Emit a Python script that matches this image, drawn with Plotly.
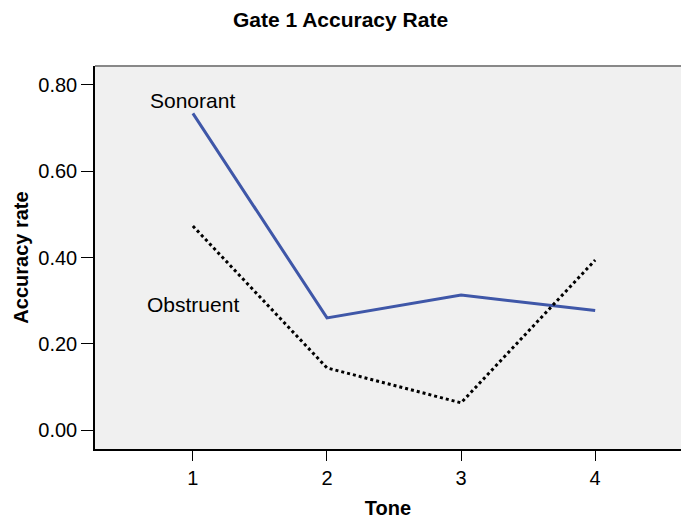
import plotly.graph_objects as go

tones = [1, 2, 3, 4]
sonorant = [0.734, 0.260, 0.313, 0.277]
obstruent = [0.473, 0.144, 0.063, 0.394]
y_ticks = [0.0, 0.2, 0.4, 0.6, 0.8]
y_ticklabels = ["0.00", "0.20", "0.40", "0.60", "0.80"]

fig = go.Figure()
fig.add_trace(go.Scatter(x=tones, y=sonorant, mode="lines", name="Sonorant",
                         line=dict(color="#3f57a8", width=3)))
fig.add_trace(go.Scatter(x=tones, y=obstruent, mode="lines", name="Obstruent",
                         line=dict(color="black", width=3, dash="dot")))

fig.add_annotation(x=tones[0], y=sonorant[0], text="Sonorant", showarrow=False,
                   yshift=13, font=dict(size=21, color="black", family="Liberation Sans"))
fig.add_annotation(x=tones[0], y=obstruent[0] - 0.17, text="Obstruent", showarrow=False,
                   yshift=-5, font=dict(size=21, color="black", family="Liberation Sans"))

fig.add_shape(type="line", xref="paper", yref="paper", x0=0, x1=1, y0=1, y1=1,
              line=dict(color="#888888", width=2))

fig.update_layout(
    width=681, height=519,
    margin=dict(l=95, r=0, t=66, b=70),
    paper_bgcolor="white", plot_bgcolor="#f0f0f0",
    showlegend=False,
    font=dict(family="Liberation Sans", color="black"),
    title=dict(text="<b>Gate 1 Accuracy Rate</b>", x=0.5, xanchor="center",
               y=1 - 20 / 519, yanchor="middle", font=dict(size=21)),
    xaxis=dict(range=[0.27, 4.64], tickvals=tones, ticktext=[str(t) for t in tones],
               showgrid=False, zeroline=False, showline=True, linecolor="black", linewidth=1.5,
               ticks="outside", ticklen=10, tickcolor="black", tickfont=dict(size=20),
               title=dict(text="<b>Tone</b>", font=dict(size=20), standoff=14)),
    yaxis=dict(range=[-0.044, 0.844], tickvals=y_ticks, ticktext=y_ticklabels,
               showgrid=False, zeroline=False, showline=True, linecolor="black", linewidth=1.5,
               ticks="outside", ticklen=12, tickcolor="black", tickfont=dict(size=20),
               title=dict(text="<b>Accuracy rate</b>", font=dict(size=20), standoff=4)),
)

fig.write_html("out.html", config={"displayModeBar": False},
               post_script="document.body.style.margin='0';")
